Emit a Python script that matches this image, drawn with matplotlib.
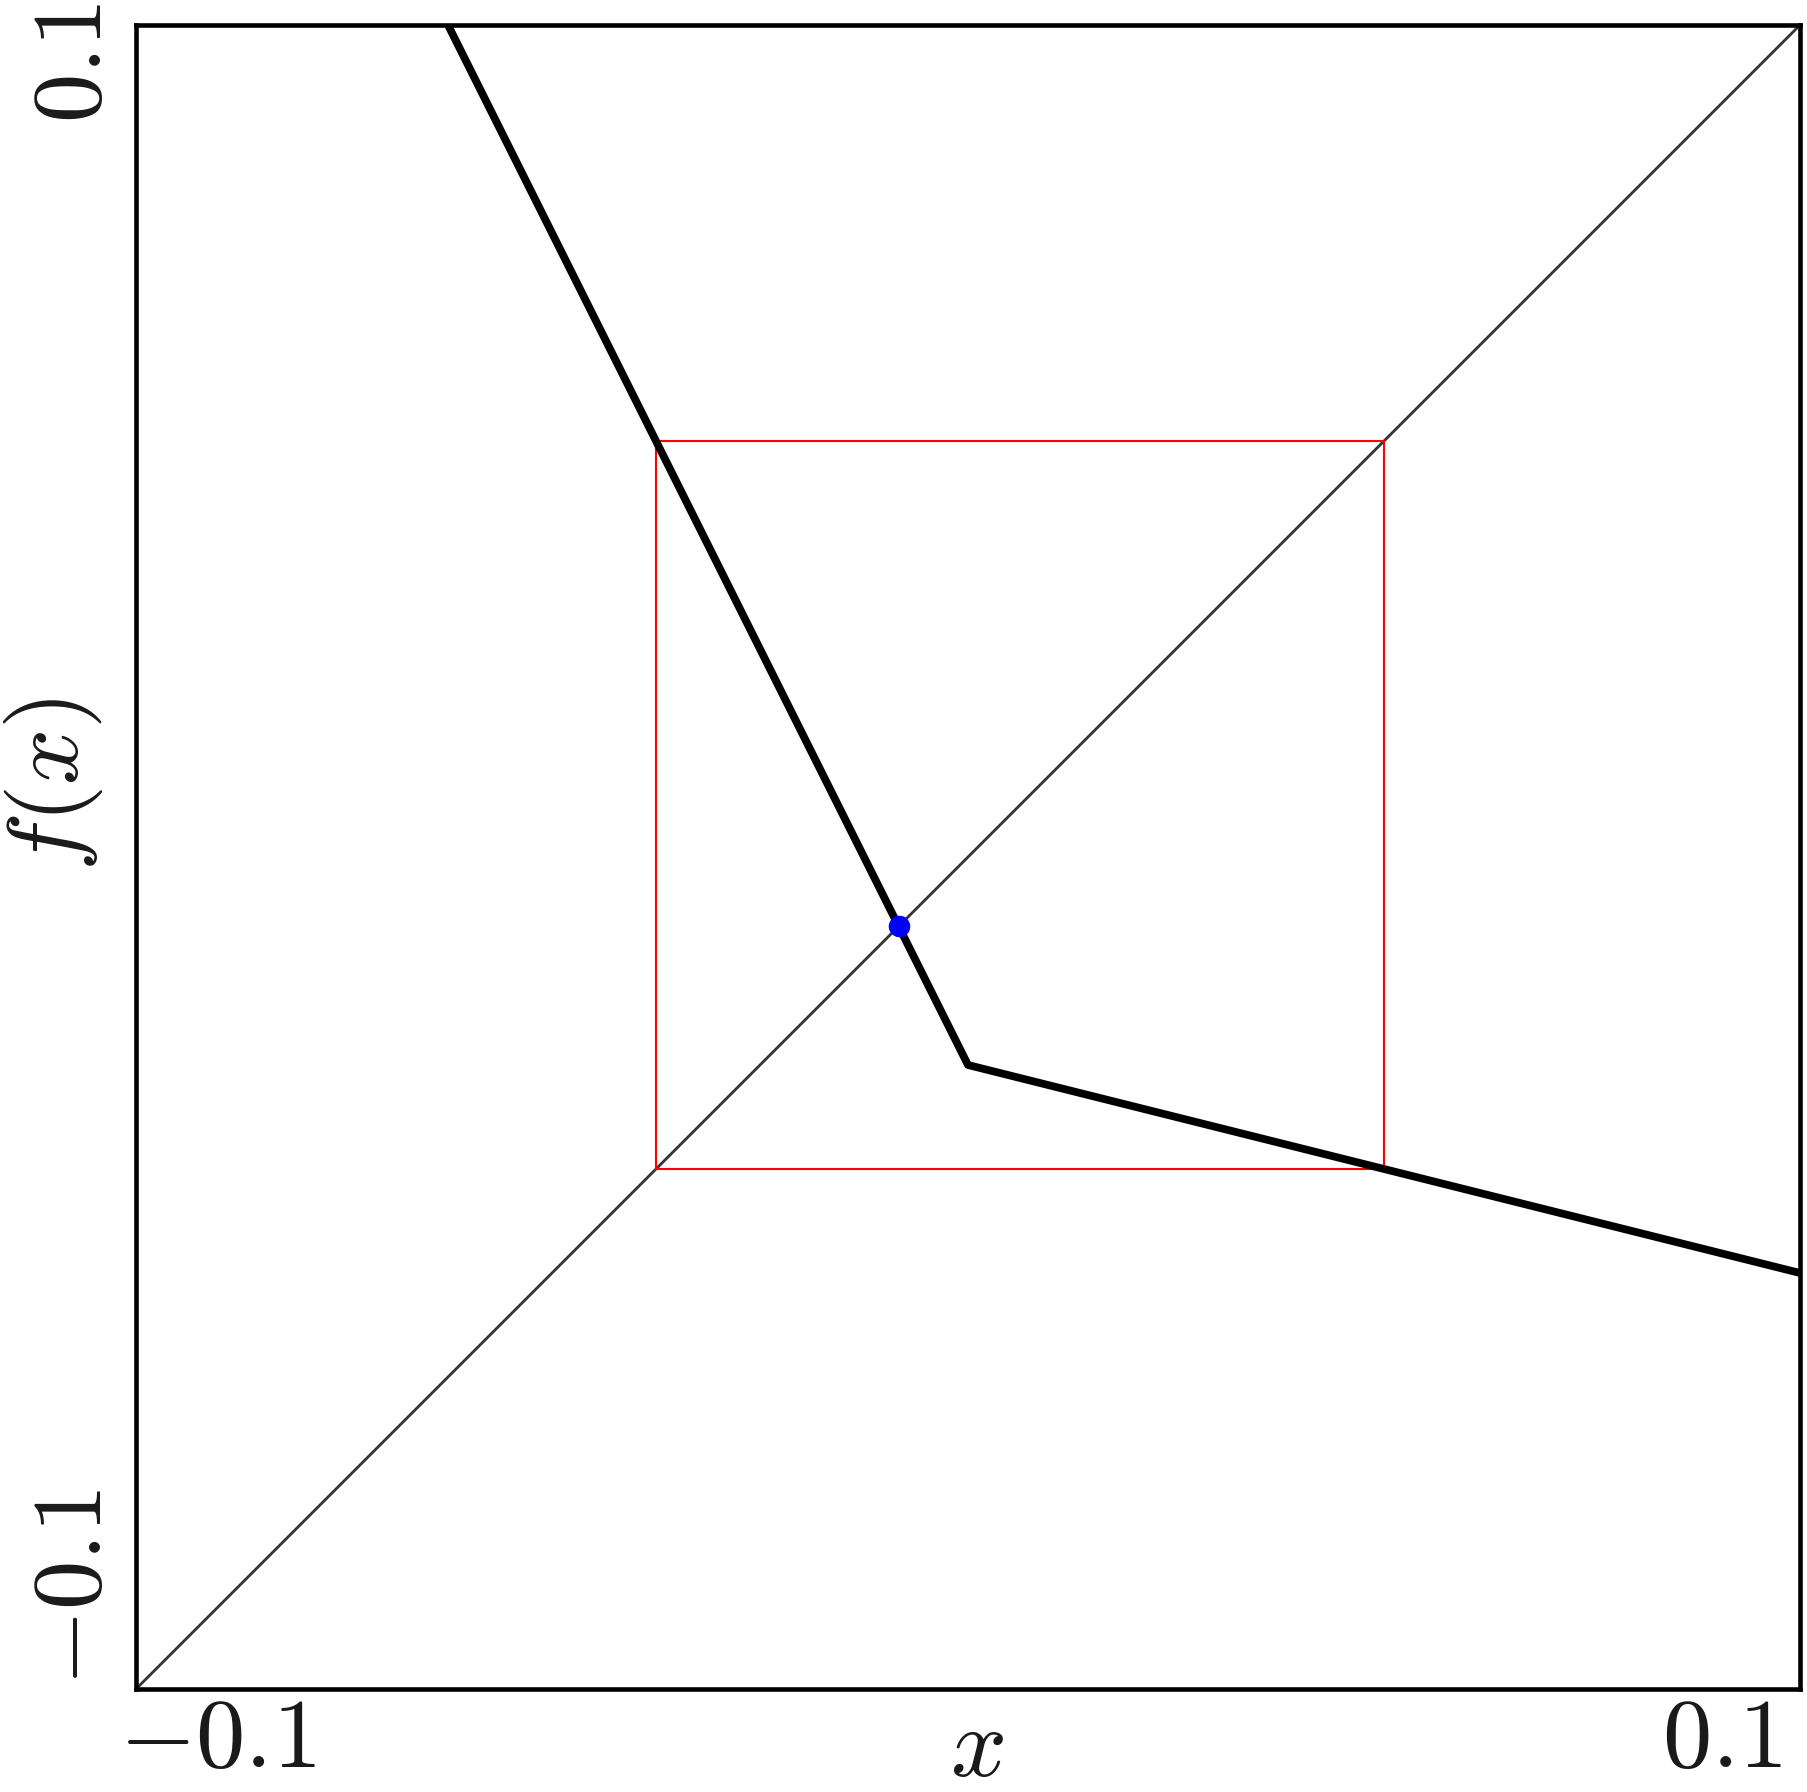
import numpy as np
import matplotlib
matplotlib.use("Agg")
import matplotlib.pyplot as plt

plt.rcParams['mathtext.fontset'] = 'cm'
plt.rcParams['font.family'] = 'serif'

# Data
curve_x = [-0.1, 0.0, 0.1]
curve_y = [0.175, -0.025, -0.05]
diag_x = [-0.1, 0.1]
diag_y = [-0.1, 0.1]
box_lo = -0.0375
box_hi = 0.05
fixed_x = [-0.008333]
fixed_y = [-0.008333]
xlim = (-0.1, 0.1)
ylim = (-0.1, 0.1)
x_tick_labels = [r'$-0.1$', r'$0.1$']
y_tick_labels = [r'$-0.1$', r'$0.1$']

W, H = 1808, 1792
fig = plt.figure(figsize=(W / 100, H / 100), dpi=100)
L, R, T, B = 136, 1800, 25, 1689
ax = fig.add_axes([L / W, 1 - B / H, (R - L) / W, (B - T) / H])

ax.plot(diag_x, diag_y, color='#333333', lw=2.0, zorder=2)
ax.plot([box_lo, box_hi, box_hi, box_lo, box_lo],
        [box_lo, box_lo, box_hi, box_hi, box_lo], color='red', lw=1.5, zorder=3)
ax.plot(curve_x, curve_y, color='black', lw=5.6, solid_joinstyle='round',
        solid_capstyle='round', zorder=4)
ax.plot(fixed_x, fixed_y, 'o', color='blue', ms=14.5, zorder=5)

ax.set_xlim(*xlim)
ax.set_ylim(*ylim)
ax.set_xticks([])
ax.set_yticks([])
for s in ax.spines.values():
    s.set_linewidth(3.3)
    s.set_color('black')

fs = 71
def ft(x, y, s, **kw):
    fig.text(x / W, 1 - y / H, s, fontsize=fs, color='#1a1a1a', **kw)

ft(119, 1692, x_tick_labels[0], ha='left', va='top')
ft(1782, 1692, x_tick_labels[1], ha='right', va='top')
ft(977, 1776, r'$x$', ha='center', va='baseline')
ft(122, 3, y_tick_labels[1], ha='right', va='top', rotation=90)
ft(122, 1686, y_tick_labels[0], ha='right', va='bottom', rotation=90)
ft(54, 784, r'$f(x)$', ha='center', va='center', rotation=90)

fig.savefig('out.png', dpi=100)
